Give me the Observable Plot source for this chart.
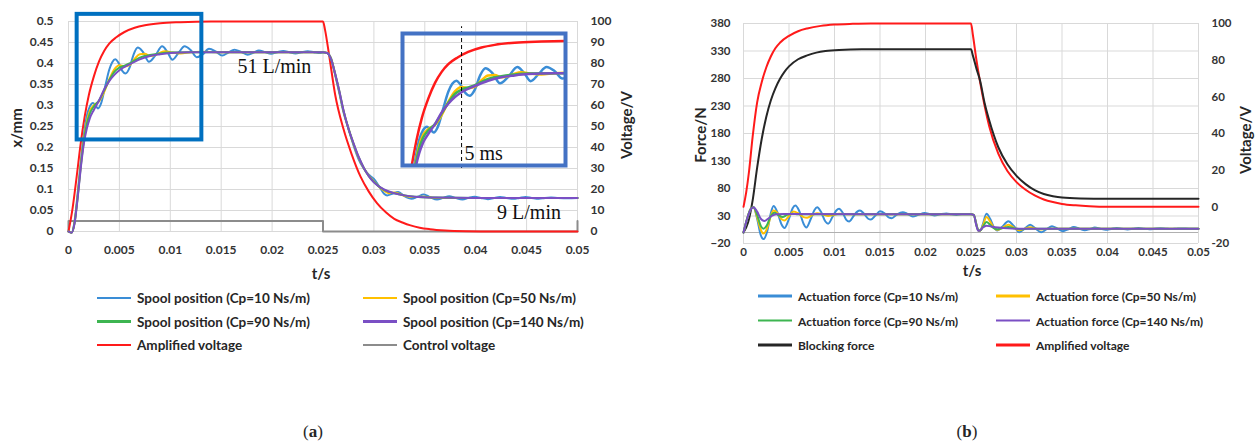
<!DOCTYPE html>
<html>
<head>
<meta charset="utf-8">
<script src="https://cdn.jsdelivr.net/npm/d3@7"></script>
<script src="https://cdn.jsdelivr.net/npm/@observablehq/plot@0.6"></script>
<style>
  body { margin: 0; background: #fff; }
  #root { position: relative; width: 1255px; height: 441px; overflow: hidden; font-family: Lato, "Open Sans", sans-serif; color: #262626; }
  .title { position: absolute; font-weight: bold; font-size: 15px; white-space: nowrap; transform: translate(-50%, -50%); }
  .rot { transform: translate(-50%, -50%) rotate(-90deg); }
  .leg { position: absolute; display: flex; align-items: center; font-weight: bold; font-size: 12px; white-space: nowrap; transform: translateY(-50%); }
  .legA { font-size: 13.5px; }
  .sw { display: inline-block; width: 34px; height: 2.5px; margin-right: 6px; }
  .cap { position: absolute; font-family: "Liberation Serif", "DejaVu Serif", serif; font-size: 17px; transform: translate(-50%, -50%); }
</style>
</head>
<body>
<div id="root"></div>
<script>
// ---------- tick values ----------
const timeTicks = [0, 0.005, 0.01, 0.015, 0.02, 0.025, 0.03, 0.035, 0.04, 0.045, 0.05];
const spoolTicks = [0, 0.05, 0.1, 0.15, 0.2, 0.25, 0.3, 0.35, 0.4, 0.45, 0.5];
const voltTicksA = [0, 10, 20, 30, 40, 50, 60, 70, 80, 90, 100];
const forceTicks = [-20, 30, 80, 130, 180, 230, 280, 330, 380];
const voltTicksB = [-20, 0, 20, 40, 60, 80, 100];

// ---------- panel (a): spool position x/mm vs t/s ----------
const spoolCp10 = [[0,0],[0.0003,-0.003],[0.0006,0.025],[0.0009,0.09],[0.0012,0.165],[0.0015,0.228],[0.0018,0.275],[0.0021,0.298],[0.0024,0.306],[0.0027,0.298],[0.0029,0.293],[0.0032,0.305],[0.0036,0.345],[0.004,0.385],[0.0043,0.403],[0.0046,0.41],[0.0049,0.402],[0.0053,0.382],[0.0056,0.376],[0.006,0.39],[0.0064,0.422],[0.0068,0.438],[0.0073,0.428],[0.0079,0.404],[0.0085,0.418],[0.0092,0.441],[0.0097,0.428],[0.0102,0.409],[0.0108,0.425],[0.0114,0.441],[0.012,0.432],[0.0126,0.415],[0.0132,0.422],[0.0138,0.435],[0.0145,0.428],[0.0151,0.419],[0.0157,0.426],[0.0163,0.433],[0.017,0.427],[0.0176,0.421],[0.0182,0.426],[0.0187,0.431],[0.0193,0.427],[0.0199,0.423],[0.0205,0.427],[0.0211,0.43],[0.0217,0.427],[0.0223,0.424],[0.0229,0.427],[0.0235,0.429],[0.0241,0.427],[0.0247,0.425],[0.025,0.426],[0.0254,0.425],[0.0258,0.412],[0.0262,0.372],[0.0266,0.33],[0.027,0.285],[0.0275,0.245],[0.028,0.205],[0.0285,0.172],[0.029,0.15],[0.0295,0.135],[0.03,0.125],[0.0305,0.108],[0.031,0.09],[0.0313,0.086],[0.0318,0.09],[0.0324,0.094],[0.033,0.084],[0.0337,0.078],[0.0343,0.083],[0.0349,0.088],[0.0355,0.082],[0.0362,0.076],[0.0368,0.08],[0.0374,0.084],[0.038,0.08],[0.0387,0.076],[0.0393,0.08],[0.0399,0.083],[0.0405,0.08],[0.0412,0.077],[0.0418,0.08],[0.0424,0.082],[0.043,0.08],[0.0437,0.078],[0.0443,0.08],[0.0449,0.082],[0.0455,0.08],[0.0462,0.078],[0.0468,0.08],[0.0474,0.081],[0.048,0.08],[0.049,0.079],[0.05,0.08]];
const spoolCp50 = [[0,0],[0.0003,-0.003],[0.0006,0.022],[0.0009,0.085],[0.0012,0.158],[0.0015,0.218],[0.0018,0.262],[0.0021,0.287],[0.0025,0.301],[0.003,0.31],[0.0035,0.332],[0.004,0.362],[0.0045,0.386],[0.005,0.396],[0.0055,0.393],[0.006,0.396],[0.0065,0.411],[0.007,0.422],[0.0075,0.423],[0.008,0.418],[0.0085,0.42],[0.009,0.426],[0.0095,0.429],[0.01,0.427],[0.011,0.424],[0.012,0.427],[0.013,0.428],[0.015,0.427],[0.025,0.427],[0.0254,0.425],[0.0258,0.411],[0.0262,0.374],[0.0266,0.333],[0.027,0.288],[0.0275,0.245],[0.028,0.208],[0.0285,0.176],[0.029,0.151],[0.0295,0.133],[0.03,0.119],[0.031,0.097],[0.0315,0.091],[0.032,0.093],[0.033,0.085],[0.034,0.082],[0.035,0.083],[0.036,0.08],[0.04,0.08],[0.05,0.08]];
const spoolCp90 = [[0,0],[0.0003,-0.003],[0.0006,0.021],[0.0009,0.082],[0.0012,0.154],[0.0015,0.214],[0.0018,0.256],[0.0021,0.281],[0.0025,0.298],[0.003,0.312],[0.0035,0.336],[0.004,0.36],[0.0045,0.38],[0.005,0.39],[0.0055,0.395],[0.006,0.4],[0.007,0.414],[0.008,0.42],[0.009,0.424],[0.01,0.426],[0.012,0.427],[0.025,0.427],[0.0254,0.425],[0.0258,0.41],[0.0262,0.375],[0.0266,0.334],[0.027,0.289],[0.0275,0.245],[0.028,0.209],[0.0285,0.177],[0.029,0.152],[0.0295,0.132],[0.03,0.118],[0.031,0.099],[0.032,0.091],[0.033,0.086],[0.034,0.083],[0.036,0.081],[0.04,0.08],[0.05,0.08]];
const spoolCp140 = [[0,0],[0.0003,-0.003],[0.0006,0.02],[0.0009,0.08],[0.0012,0.15],[0.0015,0.208],[0.0018,0.245],[0.0021,0.27],[0.0025,0.29],[0.003,0.312],[0.0035,0.338],[0.004,0.358],[0.0045,0.373],[0.005,0.384],[0.006,0.398],[0.007,0.41],[0.008,0.418],[0.009,0.422],[0.01,0.425],[0.012,0.427],[0.025,0.427],[0.0254,0.425],[0.0258,0.41],[0.0262,0.375],[0.0266,0.335],[0.027,0.29],[0.0275,0.245],[0.028,0.21],[0.0285,0.178],[0.029,0.152],[0.0295,0.132],[0.03,0.117],[0.031,0.1],[0.032,0.091],[0.033,0.086],[0.034,0.083],[0.036,0.081],[0.04,0.08],[0.05,0.08]];
// voltages in V (right axis)
const ampVoltA = [[0,0],[0.0004,11],[0.0008,26],[0.0012,42],[0.0016,55],[0.002,65],[0.0025,74],[0.003,81],[0.0035,86],[0.004,89.5],[0.0047,92.5],[0.0055,95],[0.0065,97],[0.0075,98.2],[0.009,99.2],[0.011,99.7],[0.014,100],[0.025,100],[0.0252,96],[0.0256,84],[0.0262,65],[0.027,49],[0.0278,37],[0.0287,26],[0.0295,19],[0.0303,13.5],[0.0312,9],[0.032,6],[0.0328,4.3],[0.0336,2.9],[0.0345,1.8],[0.0355,1.1],[0.037,0.5],[0.039,0.15],[0.042,0],[0.05,0]];
const ctrlVoltA = [[0,0],[0,5],[0.025,5],[0.025,0],[0.05,0],[0.05,5]];
// annotations and zoom box
const zoomWindow = [{t1: 0.00085, t2: 0.0131, v1: 0.218, v2: 0.517}];
const insetT = [0.00055, 0.01283];
const insetV = [0.2183, 0.5167];
const flowLabels = [{t: 0.0166, v: 0.392, text: "51 L/min"}, {t: 0.0421, v: 0.046, text: "9 L/min"}];
const fiveMs = [{t: 0.005, top: 0.532, bottom: 0.2115, labelV: 0.2455, text: "5 ms"}];

// ---------- panel (b): force F/N vs t/s ----------
const actCp10 = [[0,0],[0.0004,25],[0.0008,43],[0.0011,46],[0.0015,25],[0.0019,-5],[0.0022,-12],[0.0026,2],[0.003,35],[0.0033,48],[0.0037,38],[0.0042,14],[0.0045,8],[0.005,25],[0.0054,44],[0.0057,49],[0.0061,40],[0.0066,16],[0.0069,9],[0.0074,25],[0.0078,41],[0.0081,46],[0.0085,38],[0.009,20],[0.0093,16],[0.0098,29],[0.0102,40],[0.0105,43],[0.0109,36],[0.0113,23],[0.0116,20],[0.0121,30],[0.0125,38],[0.0128,40],[0.0132,35],[0.0137,25],[0.014,23.5],[0.0145,31],[0.015,38.5],[0.0155,35],[0.016,27],[0.0163,26],[0.0168,32],[0.0175,37],[0.018,34],[0.0186,29],[0.0192,32],[0.0199,35.5],[0.0205,33],[0.021,31],[0.0216,33],[0.0223,34.7],[0.0229,33],[0.0234,32],[0.024,33],[0.025,33],[0.0253,32],[0.0256,15],[0.0258,4],[0.026,3],[0.0263,15],[0.0267,34],[0.0271,25],[0.0275,10],[0.0279,3.6],[0.0284,10],[0.0291,20.5],[0.0297,12],[0.0303,0.5],[0.0309,7],[0.0315,14],[0.0321,7],[0.0327,0.5],[0.0333,6],[0.0339,11.5],[0.0345,7],[0.0351,2.5],[0.0357,6],[0.0363,9.8],[0.0369,7],[0.0375,4.3],[0.0381,6.5],[0.0386,9],[0.0392,7],[0.0398,5],[0.0404,6.5],[0.041,8.3],[0.0416,7],[0.0422,5.6],[0.0428,6.8],[0.0434,8],[0.044,7],[0.0446,6],[0.0452,6.9],[0.0458,7.8],[0.0464,7],[0.047,6.3],[0.0476,7],[0.0482,7.5],[0.049,7],[0.05,7]];
const actCp50 = [[0,0],[0.0004,25],[0.0008,43],[0.0011,46],[0.0015,28],[0.0019,5],[0.0022,-2],[0.0026,8],[0.003,30],[0.0033,40],[0.0037,36],[0.0042,24],[0.0045,22],[0.005,30],[0.0055,38],[0.006,35],[0.0066,28],[0.007,27],[0.0076,32],[0.0081,35],[0.0087,33],[0.0093,30],[0.0099,32],[0.0105,34],[0.0115,33],[0.025,33],[0.0253,32],[0.0256,14],[0.0258,4],[0.026,3],[0.0263,12],[0.0267,28],[0.0271,20],[0.0275,9],[0.0279,5],[0.0285,9],[0.0291,14],[0.0297,9],[0.0303,4],[0.0309,7],[0.0315,9.5],[0.0321,7],[0.0327,5.5],[0.0335,7],[0.035,7],[0.05,7]];
const actCp90 = [[0,0],[0.0004,25],[0.0008,43],[0.0011,46],[0.0015,32],[0.0019,12],[0.0022,7],[0.0026,14],[0.003,30],[0.0034,36],[0.0038,32],[0.0043,28],[0.0048,32],[0.0054,34],[0.006,33],[0.025,33],[0.0253,32],[0.0256,13],[0.0258,4],[0.026,3.5],[0.0263,10],[0.0267,19],[0.0271,14],[0.0275,8],[0.0279,6],[0.0285,8],[0.0291,10],[0.0298,7.5],[0.0305,6],[0.0312,7],[0.032,7],[0.05,7]];
const actCp140 = [[0,0],[0.0004,25],[0.0008,42],[0.0011,46],[0.0015,38],[0.0019,25],[0.0023,21],[0.0027,25],[0.0031,30],[0.0036,33],[0.0045,33.5],[0.025,33],[0.0253,32],[0.0256,12],[0.0258,3],[0.026,4],[0.0263,9],[0.0267,12.5],[0.0272,11],[0.028,9],[0.029,7.5],[0.03,7],[0.05,7]];
const blockForce = [[0,0],[0.0005,18],[0.001,58],[0.0015,118],[0.002,170],[0.0025,210],[0.003,240],[0.0035,262],[0.004,279],[0.0045,292],[0.005,302],[0.006,315],[0.007,322],[0.008,327],[0.009,330],[0.0105,332],[0.013,333],[0.025,333],[0.0252,322],[0.0256,298],[0.026,276],[0.0265,235],[0.027,204],[0.028,155],[0.029,124],[0.03,103],[0.031,88],[0.032,77],[0.033,70],[0.034,66],[0.035,63.5],[0.037,62],[0.04,61.5],[0.05,61.5]];
const ampVoltB = [[0,0],[0.0003,8],[0.0006,19],[0.001,38],[0.0015,57],[0.002,68],[0.0025,76],[0.003,82],[0.0035,86.5],[0.004,89.5],[0.005,93.3],[0.006,95.8],[0.007,97.3],[0.0085,98.7],[0.01,99.4],[0.012,99.8],[0.014,100],[0.025,100],[0.0252,94],[0.0256,80],[0.026,68],[0.0265,55],[0.027,44],[0.028,29],[0.029,19.5],[0.03,13.5],[0.031,9.3],[0.032,6.2],[0.033,4],[0.034,2.6],[0.035,1.6],[0.0365,0.8],[0.038,0.3],[0.04,0],[0.05,0]];

// ---------- styling ----------
const C = { blue: "#3a8dd6", yellow: "#ffc000", green: "#3db551", purple: "#7a4fc4", red: "#ff1a1a", grey: "#8c8c8c", black: "#262626", grid: "#d9d9d9", box1: "#0070c0", box2: "#4472c4" };
const legendA = [
  {label: "Spool position (Cp=10 Ns/m)", color: C.blue},
  {label: "Spool position (Cp=50 Ns/m)", color: C.yellow},
  {label: "Spool position (Cp=90 Ns/m)", color: C.green},
  {label: "Spool position (Cp=140 Ns/m)", color: C.purple},
  {label: "Amplified voltage", color: C.red},
  {label: "Control voltage", color: C.grey}
];
const legendB = [
  {label: "Actuation force (Cp=10 Ns/m)", color: C.blue},
  {label: "Actuation force (Cp=50 Ns/m)", color: C.yellow},
  {label: "Actuation force (Cp=90 Ns/m)", color: C.green},
  {label: "Actuation force (Cp=140 Ns/m)", color: C.purple},
  {label: "Blocking force", color: C.black},
  {label: "Amplified voltage", color: C.red}
];

const voltToMm = V => V / 200;
const mmToVolt = v => v * 200;
const voltToN = V => -20 + (V + 20) * 400 / 120;
const nToVolt = F => (F + 20) * 120 / 400 - 20;
const rows = (pairs, f = d => d) => pairs.map(([t, v]) => ({t, v: f(v)}));
const fmtT = d => String(+d.toFixed(3));
const line = (pairs, color, extra = {}) => Plot.line(rows(pairs, extra.f), {x: "t", y: "v", stroke: color, strokeWidth: extra.w || 2, curve: extra.curve || "monotone-x", clip: extra.clip || false});
const axisStyle = size => ({fontFamily: "Lato, 'Open Sans', sans-serif", fontSize: size, fontWeight: "bold", color: "#333", overflow: "visible", background: "transparent", maxWidth: "none"});

const root = document.getElementById("root");
function place(el, left, top) { el.style.position = "absolute"; el.style.left = left + "px"; el.style.top = top + "px"; root.appendChild(el); return el; }

// ---------- panel (a) ----------
const plotA = Plot.plot({
  width: 640, height: 285,
  marginLeft: 68, marginRight: 63, marginTop: 21, marginBottom: 54,
  x: {domain: [0, 0.05]}, y: {domain: [0, 0.5]},
  style: axisStyle("12px"),
  marks: [
    Plot.gridX(timeTicks, {stroke: C.grid, strokeOpacity: 1}),
    Plot.gridY(spoolTicks, {stroke: C.grid, strokeOpacity: 1}),
    Plot.axisX(timeTicks, {tickSize: 0, tickPadding: 14, tickFormat: fmtT, label: null}),
    Plot.axisY(spoolTicks, {tickSize: 0, tickPadding: 15, tickFormat: d => String(+d.toFixed(2)), label: null}),
    Plot.axisY(voltTicksA.map(voltToMm), {anchor: "right", tickSize: 0, tickPadding: 13, tickFormat: d => String(Math.round(mmToVolt(d))), label: null}),
    line(ctrlVoltA, C.grey, {f: voltToMm, curve: "linear"}),
    line(ampVoltA, C.red, {f: voltToMm}),
    line(spoolCp10, C.blue),
    line(spoolCp50, C.yellow),
    line(spoolCp90, C.green),
    line(spoolCp140, C.purple),
    Plot.rect(zoomWindow, {x1: "t1", x2: "t2", y1: "v1", y2: "v2", fill: "none", stroke: C.box1, strokeWidth: 4}),
    Plot.text(flowLabels, {x: "t", y: "v", text: "text", textAnchor: "start", fontFamily: "'Liberation Serif', 'DejaVu Serif', serif", fontSize: 20, fontWeight: "normal", fill: "#111"})
  ]
});
place(plotA, 0, 0);

// inset (magnified view of the boxed region)
const inset = Plot.plot({
  width: 167, height: 146,
  marginLeft: 2, marginRight: 2, marginTop: 7, marginBottom: 7,
  x: {domain: insetT, axis: null}, y: {domain: insetV, axis: null},
  style: {background: "transparent", overflow: "visible", maxWidth: "none"},
  marks: [
    line(ampVoltA, C.red, {f: voltToMm, w: 2.5, clip: true}),
    line(spoolCp10, C.blue, {w: 2.5, clip: true}),
    line(spoolCp50, C.yellow, {w: 2.5, clip: true}),
    line(spoolCp90, C.green, {w: 2.5, clip: true}),
    line(spoolCp140, C.purple, {w: 2.5, clip: true}),
    Plot.ruleX(fiveMs, {x: "t", y1: "bottom", y2: "top", stroke: "#000", strokeWidth: 1, strokeDasharray: "4,3"}),
    Plot.text(fiveMs, {x: "t", y: "labelV", text: "text", dx: 3, textAnchor: "start", fontFamily: "'Liberation Serif', 'DejaVu Serif', serif", fontSize: 20, fill: "#111"}),
    Plot.frame({stroke: C.box2, strokeWidth: 4})
  ]
});
place(inset, 400, 26);

// ---------- panel (b) ----------
const plotB = Plot.plot({
  width: 615, height: 285,
  marginLeft: 103, marginRight: 57, marginTop: 23, marginBottom: 42,
  x: {domain: [0, 0.05]}, y: {domain: [-20, 380]},
  style: axisStyle("11.5px"),
  marks: [
    Plot.gridX(timeTicks, {stroke: C.grid, strokeOpacity: 1}),
    Plot.gridY(forceTicks, {stroke: C.grid, strokeOpacity: 1}),
    Plot.ruleY([0], {stroke: "#b0b0b0", strokeWidth: 1}),
    Plot.axisX(timeTicks, {tickSize: 0, tickPadding: 4, tickFormat: fmtT, label: null}),
    Plot.axisY(forceTicks, {tickSize: 0, tickPadding: 13, label: null}),
    Plot.axisY(voltTicksB.map(voltToN), {anchor: "right", tickSize: 0, tickPadding: 13, tickFormat: d => String(Math.round(nToVolt(d))), label: null}),
    line(ampVoltB, C.red, {f: voltToN}),
    line(blockForce, C.black),
    line(actCp10, C.blue),
    line(actCp50, C.yellow),
    line(actCp90, C.green),
    line(actCp140, C.purple)
  ]
});
place(plotB, 640, 0);

// ---------- axis titles ----------
function title(text, x, y, rotate) {
  const d = document.createElement("div");
  d.className = "title" + (rotate ? " rot" : "");
  d.textContent = text;
  place(d, x, y);
}
title("x/mm", 16, 128, true);
title("Voltage/V", 626, 125, true);
title("t/s", 321, 273, false);
title("Force/N", 700, 135, true);
title("Voltage/V", 1245, 140, true);
title("t/s", 972, 270, false);

// ---------- legends ----------
function legend(items, cls, x0, colGap, y0, rowGap) {
  items.forEach((it, i) => {
    const d = document.createElement("div");
    d.className = "leg " + cls;
    const sw = document.createElement("span");
    sw.className = "sw";
    sw.style.background = it.color;
    d.appendChild(sw);
    d.appendChild(document.createTextNode(it.label));
    place(d, x0 + (i % 2) * colGap, y0 + Math.floor(i / 2) * rowGap);
  });
}
legend(legendA, "legA", 97, 266, 298, 23.5);
legend(legendB, "legB", 758, 238, 296, 24.5);

// ---------- panel captions ----------
function caption(letter, x, y) {
  const d = document.createElement("div");
  d.className = "cap";
  d.innerHTML = "(<b>" + letter + "</b>)";
  place(d, x, y);
}
caption("a", 313, 432);
caption("b", 967, 432);
</script>
</body>
</html>
